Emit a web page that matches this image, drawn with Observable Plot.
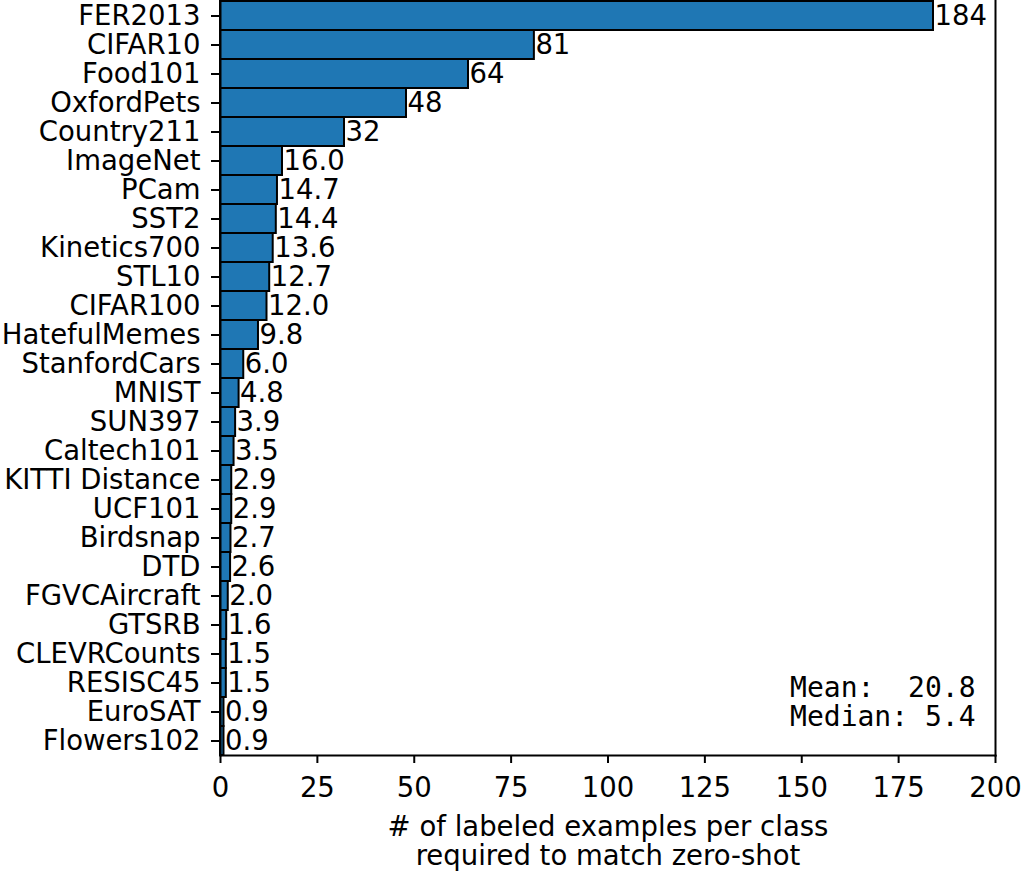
<!DOCTYPE html>
<html>
<head>
<meta charset="utf-8">
<script src="https://cdn.jsdelivr.net/npm/d3@7"></script>
<script src="https://cdn.jsdelivr.net/npm/@observablehq/plot@0.6"></script>
<style>
  html, body { margin: 0; padding: 0; background: white; }
  svg text { white-space: pre; }
</style>
</head>
<body>
<div id="chart"></div>
<script>
const datasets = ["FER2013","CIFAR10","Food101","OxfordPets","Country211","ImageNet","PCam","SST2","Kinetics700","STL10","CIFAR100","HatefulMemes","StanfordCars","MNIST","SUN397","Caltech101","KITTI Distance","UCF101","Birdsnap","DTD","FGVCAircraft","GTSRB","CLEVRCounts","RESISC45","EuroSAT","Flowers102"];
const values = [184,81,64,48,32,16.0,14.7,14.4,13.6,12.7,12.0,9.8,6.0,4.8,3.9,3.5,2.9,2.9,2.7,2.6,2.0,1.6,1.5,1.5,0.9,0.9];
const xTicks = [0,25,50,75,100,125,150,175,200];
const xLabel = "# of labeled examples per class\nrequired to match zero-shot";
const statsLines = ["Mean:  20.8", "Median: 5.4"];

const data = datasets.map((name, i) => ({name, value: values[i]}));
const fmt = v => v >= 20 ? d3.format("d")(v) : d3.format(".1f")(v);

const chart = Plot.plot({
  width: 1022,
  height: 871,
  marginLeft: 220,
  marginRight: 27,
  marginTop: 0,
  marginBottom: 116,
  style: {fontFamily: "DejaVu Sans", fontSize: "27.5px", color: "black", background: "white"},
  x: {domain: [0, 200]},
  y: {domain: datasets, padding: 0},
  marks: [
    Plot.barX(data, {x: "value", y: "name", fill: "#1f77b4", stroke: "black", strokeWidth: 2}),
    Plot.text(data, {x: "value", y: "name", text: d => fmt(d.value), textAnchor: "start", dx: 1, fill: "black", fontSize: 27.5}),
    Plot.axisX({ticks: xTicks, tickFormat: d3.format("d"), tickSize: 8, tickPadding: 14, label: null, strokeWidth: 2, fontSize: 27.5}),
    Plot.axisY({tickSize: 9, tickPadding: 11, label: null, strokeWidth: 2, fontSize: 27.5}),
    Plot.frame({anchor: "left", stroke: "black", strokeWidth: 2}),
    Plot.frame({anchor: "bottom", stroke: "black", strokeWidth: 2}),
    Plot.frame({anchor: "right", stroke: "black", strokeWidth: 2}),
    Plot.text([xLabel], {frameAnchor: "bottom", lineAnchor: "middle", dy: 86, lineHeight: 1.05, fontSize: 27.5, fill: "black"}),
    Plot.text([statsLines.join("\n")], {frameAnchor: "bottom-right", textAnchor: "end", lineAnchor: "middle", dx: -20, dy: -53, lineHeight: 1.04, fontFamily: "DejaVu Sans Mono", fontSize: 28, fill: "black"})
  ]
});
document.getElementById("chart").appendChild(chart);
</script>
</body>
</html>
